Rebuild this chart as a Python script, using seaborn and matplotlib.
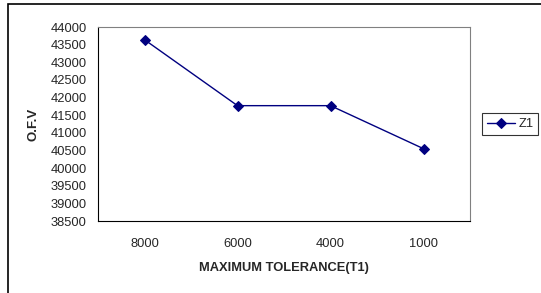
import matplotlib
matplotlib.use('Agg')
import matplotlib.pyplot as plt
import seaborn as sns
import pandas as pd
import numpy as np
from matplotlib.patches import Rectangle

# valores
tolerancia = ['8000', '6000', '4000', '1000']
ofv_z1 = [43640, 41770, 41770, 40550]
y_ticks = list(range(38500, 44001, 500))

df = pd.DataFrame({'T1': tolerancia, 'OFV': ofv_z1, 'Serie': 'Z1'})

sns.set_theme(style='white')
plt.rcParams['font.family'] = ['Liberation Sans', 'DejaVu Sans']

fig = plt.figure(figsize=(5.41, 2.93), dpi=100)
ax = fig.add_axes([98 / 541, 1 - 221 / 293, 372 / 541, 194 / 293])

sns.lineplot(data=df, x='T1', y='OFV', hue='Serie', palette={'Z1': '#000080'},
             marker='D', markersize=5, markeredgecolor='#000080',
             linewidth=1, sort=False, ax=ax)

ax.set_xlim(-0.5, 3.5)
ax.set_ylim(38500, 44000)
ax.set_yticks(y_ticks)
ax.set_yticklabels([str(v) for v in y_ticks], fontsize=9.3)
ax.set_xticks(range(len(tolerancia)))
ax.set_xticklabels(tolerancia, fontsize=9.3)
ax.set_xticks(np.arange(-0.5, 4, 1), minor=True)
ax.tick_params(axis='x', which='major', length=0, pad=12)
ax.tick_params(axis='x', which='minor', length=4, width=0.8, color='black', direction='out')
ax.tick_params(axis='y', which='major', length=4, width=0.8, color='black', direction='out', pad=4)

for side in ['top', 'right']:
    ax.spines[side].set_color('#808080')
    ax.spines[side].set_linewidth(0.8)
for side in ['left', 'bottom']:
    ax.spines[side].set_color('black')
    ax.spines[side].set_linewidth(0.8)

ax.set_xlabel('MAXIMUM TOLERANCE(T1)', fontsize=9.3, fontweight='bold', labelpad=9)
ax.set_ylabel('O.F.V', fontsize=9.5, fontweight='bold', labelpad=8)

leg = ax.legend(loc='center left', bbox_to_anchor=(482 / 541, 1 - 124 / 293),
                bbox_transform=fig.transFigure, fontsize=9.3, frameon=True,
                fancybox=False, edgecolor='black', handlelength=2.2,
                borderpad=0.35, handletextpad=0.25, borderaxespad=0)
leg.get_frame().set_linewidth(0.8)

# moldura externa da area do grafico
fig.patches.append(Rectangle((8 / 541, -0.1), 1.2, 1 - 4 / 293 + 0.1,
                             transform=fig.transFigure, fill=False,
                             edgecolor='black', linewidth=1.2))

fig.savefig('out.png', dpi=100)
